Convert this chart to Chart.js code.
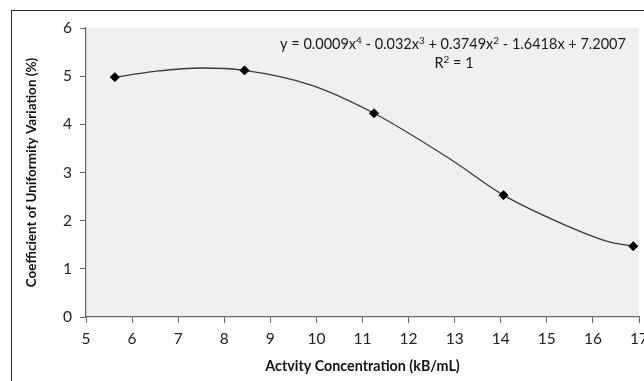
<!DOCTYPE html>
<html lang="en">
<head>
  <meta charset="utf-8">
  <title>Uniformity vs Activity Concentration</title>
  <style>
    body {
      margin: 0;
      background-color: #fff;
      width: 644px;
      height: 381px;
      overflow: hidden;
      position: relative;
      font-family: Lato, Arial, sans-serif;
    }
    .frame {
      position: absolute;
      left: 11px;
      top: 10px;
      width: 700px;
      height: 400px;
      border-left: 1.5px solid #2a2a2a;
      border-top: 1.5px solid #2a2a2a;
    }
    .chart-box {
      position: absolute;
      left: 0;
      top: 0;
      width: 660px;
      height: 381px;
    }
  </style>
</head>
<body>
  <div class="frame"></div>
  <div class="chart-box"><canvas id="cuvChart" width="660" height="381"></canvas></div>
  <script src="https://cdn.jsdelivr.net/npm/chart.js"></script>
  <script>
    // measured points
    const concentration = [5.625, 8.44, 11.25, 14.06, 16.875];
    const uniformity = [4.98, 5.12, 4.23, 2.53, 1.47];

    // 4th order trendline
    const trendX = [5.625, 6.5, 7.5, 8.44, 9.9, 11.25, 12.9, 14.06, 15.3, 16.35, 16.875];
    const trendY = [4.98, 5.10, 5.17, 5.12, 4.81, 4.23, 3.28, 2.53, 1.95, 1.56, 1.47];

    const xTicks = [5, 6, 7, 8, 9, 10, 11, 12, 13, 14, 15, 16, 17];
    const yTicks = [0, 1, 2, 3, 4, 5, 6];

    // equation pieces: [text, superscript]
    const equationParts = [
      ['y = 0.0009x', '4'], [' - 0.032x', '3'], [' + 0.3749x', '2'], [' - 1.6418x + 7.2007', '']
    ];
    const rSquaredParts = [['R', '2'], [' = 1', '']];

    const plotBackground = {
      id: 'plotBackground',
      beforeDraw(chart) {
        const a = chart.chartArea;
        const ctx = chart.ctx;
        ctx.save();
        ctx.fillStyle = '#f0f0f0';
        ctx.fillRect(a.left, a.top, a.right - a.left, a.bottom - a.top);
        ctx.restore();
      }
    };

    function drawParts(ctx, parts, centerX, y) {
      const mainFont = '14.5px Lato, Arial, sans-serif';
      const supFont = '10px Lato, Arial, sans-serif';
      let total = 0;
      parts.forEach(p => {
        ctx.font = mainFont; total += ctx.measureText(p[0]).width;
        ctx.font = supFont; total += ctx.measureText(p[1]).width;
      });
      let x = centerX - total / 2;
      parts.forEach(p => {
        ctx.font = mainFont;
        ctx.fillText(p[0], x, y);
        x += ctx.measureText(p[0]).width;
        ctx.font = supFont;
        ctx.fillText(p[1], x, y - 5);
        x += ctx.measureText(p[1]).width;
      });
    }

    const trendLabel = {
      id: 'trendLabel',
      afterDraw(chart) {
        const a = chart.chartArea;
        const ctx = chart.ctx;
        ctx.save();
        ctx.fillStyle = '#1a1a1a';
        ctx.textAlign = 'left';
        ctx.textBaseline = 'alphabetic';
        drawParts(ctx, equationParts, a.right - 186, a.top + 21);
        drawParts(ctx, rSquaredParts, a.right - 185, a.top + 40);
        ctx.restore();
      }
    };

    const ctx = document.getElementById('cuvChart').getContext('2d');
    const chart = new Chart(ctx, {
      type: 'scatter',
      data: {
        datasets: [{
          label: 'Poly. trend',
          data: trendX.map((x, i) => ({ x: x, y: trendY[i] })),
          showLine: true,
          borderColor: '#3a3a3a',
          borderWidth: 1.3,
          pointRadius: 0,
          cubicInterpolationMode: 'monotone',
          order: 2
        }, {
          label: 'CUV',
          data: concentration.map((x, i) => ({ x: x, y: uniformity[i] })),
          pointStyle: 'rectRot',
          pointRadius: 4.5,
          backgroundColor: '#000',
          borderColor: '#000',
          borderWidth: 1,
          order: 1
        }]
      },
      options: {
        responsive: false,
        animation: false,
        layout: { padding: { left: 0, top: 28, right: 21, bottom: 0 } },
        plugins: {
          legend: { display: false },
          tooltip: { enabled: false }
        },
        scales: {
          x: {
            type: 'linear',
            min: 5,
            max: 17,
            afterBuildTicks(scale) { scale.ticks = xTicks.map(v => ({ value: v })); },
            afterFit(scale) { scale.height = 64; },
            grid: { drawOnChartArea: false, drawTicks: true, tickLength: 6, color: '#666' },
            border: { color: '#666', width: 1.2 },
            ticks: { color: '#222', padding: 7, font: { family: 'Lato', size: 15.5 } },
            title: {
              display: true,
              text: 'Actvity Concentration (kB/mL)',
              color: '#111',
              font: { family: 'Lato', size: 14.3, weight: 'bold' },
              padding: { top: 0, bottom: 6 }
            }
          },
          y: {
            min: 0,
            max: 6,
            afterBuildTicks(scale) { scale.ticks = yTicks.map(v => ({ value: v })); },
            afterFit(scale) { scale.width = 86; },
            grid: { drawOnChartArea: false, drawTicks: true, tickLength: 6, color: '#666' },
            border: { color: '#666', width: 1.2 },
            ticks: { color: '#222', padding: 8, font: { family: 'Lato', size: 15.5 } },
            title: {
              display: true,
              text: 'Coefficient of Uniformity Variation (%)',
              color: '#111',
              font: { family: 'Lato', size: 13.5, weight: 'bold' },
              padding: { top: 24, bottom: 0 }
            }
          }
        }
      },
      plugins: [plotBackground, trendLabel]
    });
  </script>
</body>
</html>
